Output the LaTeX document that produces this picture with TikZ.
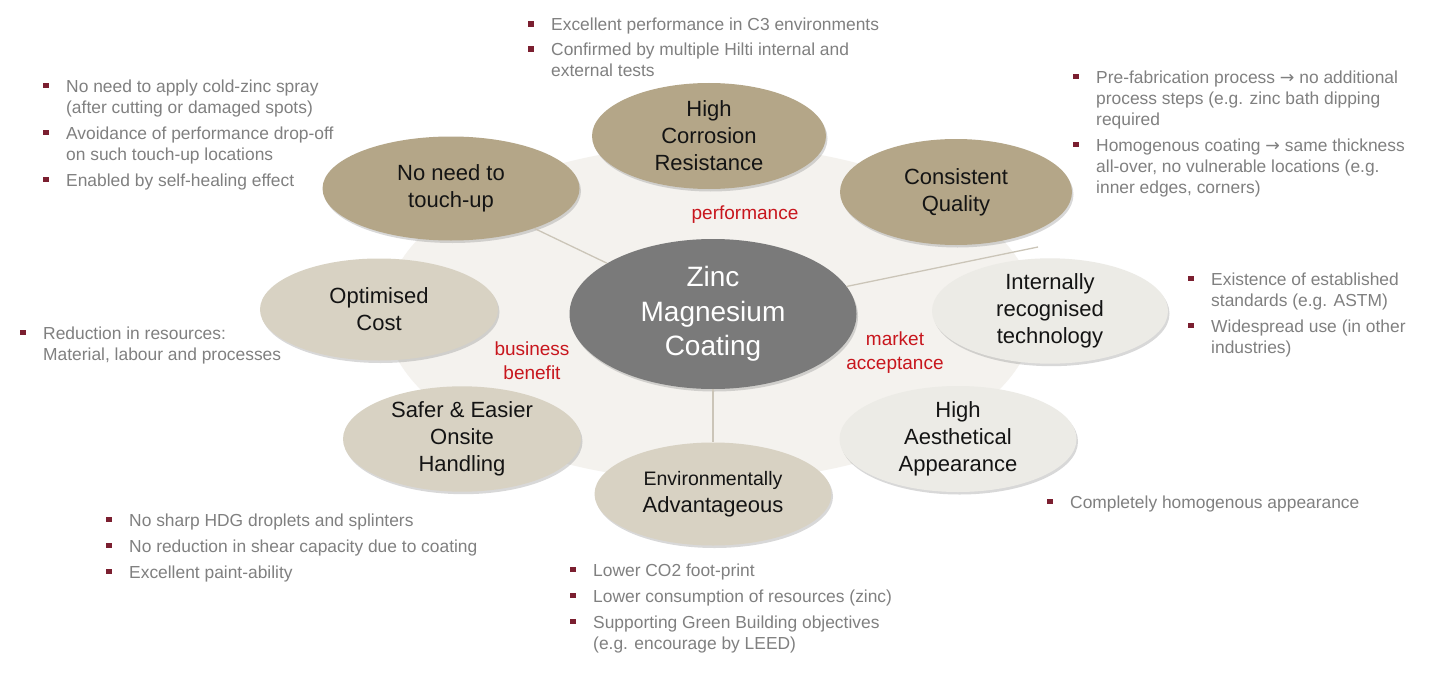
\documentclass[tikz,border=0pt]{standalone}
\usepackage{fontspec}
\setmainfont{Liberation Sans}
\newfontfamily\dv{DejaVu Sans}
\usetikzlibrary{shapes.geometric,shadows}
\definecolor{dk}{HTML}{B4A688}
\definecolor{md}{HTML}{D8D2C3}
\definecolor{lt}{HTML}{ECEBE6}
\definecolor{bgc}{HTML}{F4F2EE}
\definecolor{ctr}{HTML}{7A7A7A}
\definecolor{sepc}{HTML}{CBC5B8}
\definecolor{redt}{HTML}{C8161D}
\definecolor{bulc}{HTML}{7B1F30}
\definecolor{gtxt}{HTML}{808080}
\newcommand{\bi}{\llap{\textcolor{bulc}{\rule[4pt]{5.5pt}{5.5pt}}\hspace{17.5pt}}}
\newcommand{\rarr}{{\dv →}}
\begin{document}
\begin{tikzpicture}[x=1pt,y=-1pt,
  oval/.style={ellipse, inner sep=0pt, align=center, text=black!92,
    font=\fontsize{22}{27}\selectfont,
    drop shadow={shadow xshift=1.5pt, shadow yshift=-2.5pt, opacity=0.3}},
  lab/.style={text=redt, align=center, font=\fontsize{19}{24}\selectfont, inner sep=0pt},
  blist/.style={anchor=north west, align=left, inner sep=0pt, text=gtxt,
    font=\fontsize{17.4}{21}\selectfont},
  sepline/.style={draw=sepc, line width=1.3pt}]
\fill[white] (0,0) rectangle (1431,674);
\useasboundingbox (0,0) rectangle (1431,674);

% background ellipse
\node[ellipse, fill=bgc, minimum width=650pt, minimum height=336pt, inner sep=0pt] (bg) at (710,313) {};

% centre
\node[oval, fill=ctr, text=white, minimum width=287pt, minimum height=150pt,
  font=\fontsize{28}{34.5}\selectfont] (c) at (713,314) {Zinc\\Magnesium\\Coating};

% satellites
\node[oval, fill=dk, minimum width=234pt, minimum height=106pt] (hc) at (709,136) {High\\Corrosion\\Resistance};
\node[oval, fill=dk, minimum width=232pt, minimum height=106pt] (cq) at (956,192) {Consistent\\Quality};
\node[oval, fill=dk, minimum width=257pt, minimum height=104pt] (tu) at (451,188.5) {No need to\\touch-up};
\node[oval, fill=md, minimum width=238pt, minimum height=102pt] (oc) at (379,309.5) {Optimised\\Cost};
\node[oval, fill=lt, minimum width=236pt, minimum height=102pt] (ir) at (1050,311) {Internally\\recognised\\technology};
\node[oval, fill=lt, minimum width=237pt, minimum height=106pt] (ha) at (958,439) {High\\Aesthetical\\Appearance};
\node[oval, fill=md, minimum width=237pt, minimum height=103pt] (env) at (713,494) {{\fontsize{19.5}{24}\selectfont Environmentally}\\Advantageous};
\node[oval, fill=md, minimum width=238pt, minimum height=105pt] (sf) at (462,439) {Safer \& Easier\\Onsite\\Handling};

% separator lines
\coordinate (r) at (1038,247);
\draw[sepline] (tu) -- (c);
\draw[sepline] (c) -- (r);
\draw[sepline] (c) -- (env);

% red labels
\node[lab] (pf) at (745,215) {performance};
\node[lab] (bb) at (532,361) {business\\benefit};
\node[lab] (ma) at (895,353) {market\\acceptance};

% bullet lists
\node[blist] (la) at (66,79.5) {\bi No need to apply cold-zinc spray\\(after cutting or damaged spots)\\[5pt]\bi Avoidance of performance drop-off\\on such touch-up locations\\[5pt]\bi Enabled by self-healing effect};
\node[blist] (lb) at (551,18) {\bi Excellent performance in C3 environments\\[4pt]\bi Confirmed by multiple Hilti internal and\\external tests};
\node[blist] (lc) at (1096,70.5) {\bi Pre-fabrication process \rarr{} no additional\\process steps (e.g. zinc bath dipping\\required\\[5pt]\bi Homogenous coating \rarr{} same thickness\\all-over, no vulnerable locations (e.g.\\inner edges, corners)};
\node[blist] (ld) at (1211,272.5) {\bi Existence of established\\standards (e.g. ASTM)\\[5pt]\bi Widespread use (in other\\industries)};
\node[blist] (le) at (43,326.5) {\bi Reduction in resources:\\Material, labour and processes};
\node[blist] (lf) at (129,513.5) {\bi No sharp HDG droplets and splinters\\[5pt]\bi No reduction in shear capacity due to coating\\[5pt]\bi Excellent paint-ability};
\node[blist] (lg) at (593,563.5) {\bi Lower CO2 foot-print\\[5pt]\bi Lower consumption of resources (zinc)\\[5pt]\bi Supporting Green Building objectives\\(e.g. encourage by LEED)};
\node[blist] (lh) at (1070,495.5) {\bi Completely homogenous appearance};
\end{tikzpicture}
\end{document}
